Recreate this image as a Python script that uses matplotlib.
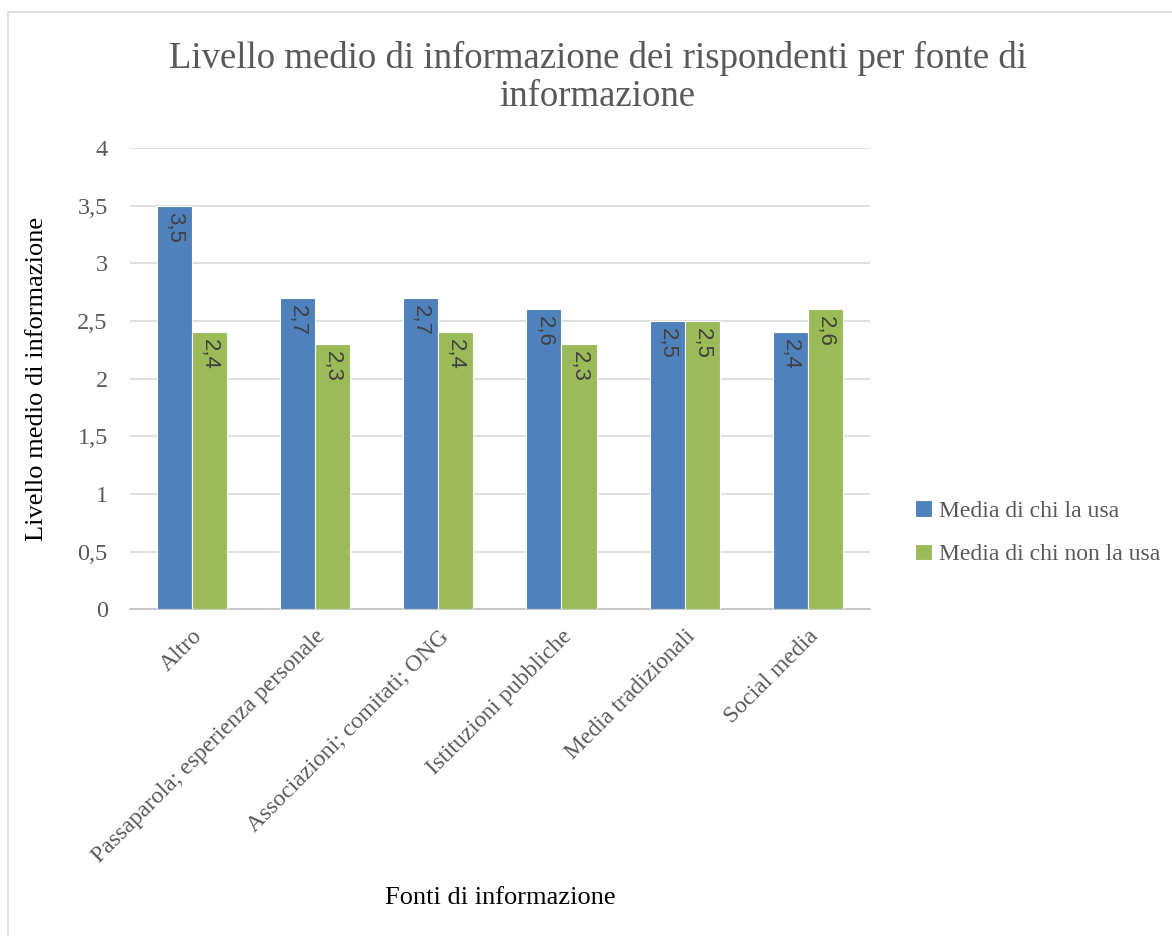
import numpy as np
import matplotlib
matplotlib.use("Agg")
import matplotlib.pyplot as plt
from matplotlib.patches import Rectangle

# data
fonti = ["Altro", "Passaparola; esperienza personale", "Associazioni; comitati; ONG",
         "Istituzioni pubbliche", "Media tradizionali", "Social media"]
media_usa = [3.5, 2.7, 2.7, 2.6, 2.5, 2.4]
media_non_usa = [2.4, 2.3, 2.4, 2.3, 2.5, 2.6]
serie_nomi = ["Media di chi la usa", "Media di chi non la usa"]
colori = ["#4F81BD", "#9BBB59"]
yticks = [0, 0.5, 1, 1.5, 2, 2.5, 3, 3.5, 4]

plt.rcParams['font.family'] = ['Liberation Serif', 'DejaVu Serif']
testo = "#595959"

fig = plt.figure(figsize=(11.72, 9.36), dpi=100)
ax = fig.add_axes([0.111, 0.349, 0.631, 0.493])

fig.patches.append(Rectangle((0.007, -0.01), 1.0, 0.997, transform=fig.transFigure,
                             fill=False, edgecolor="#D9D9D9", linewidth=1.2))

x = np.arange(len(fonti))
w = 0.285
for i, (vals, nome, col) in enumerate(zip([media_usa, media_non_usa], serie_nomi, colori)):
    pos = x + (i - 0.5) * w
    bars = ax.bar(pos, vals, width=w, color=col, edgecolor="white", linewidth=0.8,
                  label=nome, zorder=3)
    for b, v in zip(bars, vals):
        ax.text(b.get_x() + b.get_width() / 2, v - 0.06, ("%.1f" % v).replace(".", ","),
                rotation=-90, ha="center", va="top", fontsize=16, color="#404040",
                family=['Liberation Sans', 'DejaVu Sans'], zorder=4)

ax.set_xlim(-0.5, len(fonti) - 0.5)
ax.set_ylim(0, 4)
ax.set_yticks(yticks)
ax.set_yticklabels([("%g" % t).replace(".", ",") for t in yticks], fontsize=17.5, color=testo)
ax.yaxis.grid(True, color="#D9D9D9", linewidth=1.2, zorder=0)
ax.set_axisbelow(True)
ax.tick_params(axis="y", length=0, pad=16)
ax.tick_params(axis="x", length=0, pad=12)
ax.set_xticks(x)
ax.set_xticklabels(fonti, rotation=45, ha="right", rotation_mode="anchor",
                   fontsize=17, color=testo)
for s in ["top", "right", "left"]:
    ax.spines[s].set_visible(False)
ax.spines["bottom"].set_color("#BFBFBF")
ax.spines["bottom"].set_linewidth(1.2)

ax.set_ylabel("Livello medio di informazione", fontsize=19, color="black", labelpad=21)
fig.text(0.427, 0.041, "Fonti di informazione", ha="center", va="center",
         fontsize=19, color="black")
fig.text(0.51, 0.917, "Livello medio di informazione dei rispondenti per fonte di\ninformazione",
         ha="center", va="center", fontsize=26.5, color=testo, linespacing=1.15)

ax.legend(loc="center left", bbox_to_anchor=(1.033, 0.166), frameon=False, fontsize=17,
          handlelength=0.7, handleheight=0.7, handletextpad=0.3, labelspacing=0.95,
          labelcolor=testo)

fig.savefig("out.png", dpi=100)
